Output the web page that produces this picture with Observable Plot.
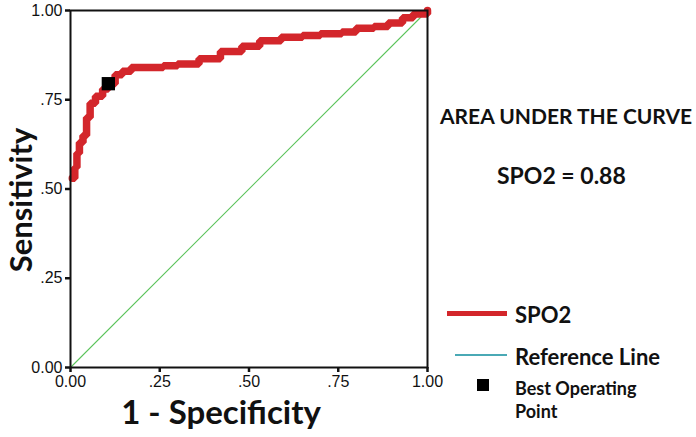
<!DOCTYPE html>
<html>
<head>
<meta charset="utf-8">
<script src="https://cdn.jsdelivr.net/npm/d3@7"></script>
<script src="https://cdn.jsdelivr.net/npm/@observablehq/plot@0.6"></script>
<style>
  html, body { margin: 0; padding: 0; background: #fff; }
  #wrap { position: relative; width: 696px; height: 437px; }
  #wrap svg { position: absolute; left: 0; top: 0; }
  .note { position: absolute; font-family: Lato, "Open Sans", sans-serif; font-weight: 700; color: #111; white-space: nowrap; line-height: 1; }
  .sw { position: absolute; }
</style>
</head>
<body>
<div id="wrap"></div>
<script>
// ROC curve for SPO2
const fpr = [0.005, 0.012, 0.018, 0.025, 0.035, 0.045, 0.055, 0.07, 0.09, 0.106, 0.125, 0.145, 0.17, 0.21, 0.26, 0.30, 0.36, 0.42, 0.48, 0.53, 0.59, 0.65, 0.70, 0.76, 0.80, 0.85, 0.89, 0.93, 0.96, 1.00];
const tpr = [0.53, 0.56, 0.60, 0.63, 0.65, 0.70, 0.74, 0.76, 0.78, 0.795, 0.82, 0.83, 0.84, 0.84, 0.845, 0.85, 0.865, 0.885, 0.90, 0.915, 0.925, 0.93, 0.935, 0.94, 0.95, 0.955, 0.965, 0.98, 0.99, 1.00];
const refX = [0, 1];
const refY = [0, 1];
const bestX = [0.106];
const bestY = [0.795];
const tickValues = [0, 0.25, 0.5, 0.75, 1];
const tickLabels = ["0.00", ".25", ".50", ".75", "1.00"];
const aucLabel = "AREA UNDER THE CURVE";
const aucText = "SPO2 = 0.88";
const legendNames = ["SPO2", "Reference Line", "Best Operating Point"];

const curve = fpr.map((x, i) => ({x, y: tpr[i]}));
const ref = refX.map((x, i) => ({x, y: refY[i]}));
const best = bestX.map((x, i) => ({x, y: bestY[i]}));
const fmt = v => tickLabels[tickValues.indexOf(v)];

const chart = Plot.plot({
  width: 696,
  height: 437,
  marginLeft: 70,
  marginRight: 269,
  marginTop: 10,
  marginBottom: 70,
  style: {fontFamily: '"Liberation Sans", Arial, sans-serif', fontSize: "16px", color: "#111", background: "transparent"},
  x: {domain: [0, 1]},
  y: {domain: [0, 1]},
  marks: [
    Plot.line(ref, {x: "x", y: "y", stroke: "#5cc45c", strokeWidth: 1.1}),
    Plot.line(curve, {x: "x", y: "y", stroke: "#d3262b", strokeWidth: 7.5, curve: "step-after", strokeLinejoin: "miter"}),
    Plot.dot(best, {x: "x", y: "y", symbol: "square", fill: "#000", r: 7.5}),
    Plot.frame({stroke: "#111", strokeWidth: 2}),
    Plot.axisX({ticks: tickValues, tickFormat: fmt, tickSize: 5, strokeWidth: 2.5, tickPadding: 3, label: null, fontSize: 16}),
    Plot.axisY({ticks: tickValues, tickFormat: fmt, tickSize: 5, strokeWidth: 2.5, tickPadding: 3, label: null, fontSize: 16}),
    Plot.text(["1 - Specificity"], {text: d => d, frameAnchor: "bottom", textAnchor: "middle", lineAnchor: "middle", dy: 46, dx: -28, fontSize: 33, fontWeight: 700, fontFamily: "Lato, sans-serif", fill: "#111"}),
    Plot.text(["Sensitivity"], {text: d => d, frameAnchor: "left", textAnchor: "middle", lineAnchor: "middle", dx: -48, dy: 11, rotate: -90, fontSize: 31, fontWeight: 700, fontFamily: "Lato, sans-serif", fill: "#111"})
  ]
});
const wrap = document.getElementById("wrap");
wrap.appendChild(chart);

function note(text, left, top, size) {
  const d = document.createElement("div");
  d.className = "note";
  d.textContent = text;
  d.style.left = left + "px";
  d.style.top = top + "px";
  d.style.fontSize = size + "px";
  wrap.appendChild(d);
  return d;
}
function sw(left, top, w, h, color) {
  const d = document.createElement("div");
  d.className = "sw";
  Object.assign(d.style, {left: left + "px", top: top + "px", width: w + "px", height: h + "px", background: color});
  wrap.appendChild(d);
}
note(aucLabel, 440, 105, 21);
note(aucText, 497, 164, 23);
// legend
sw(447, 311, 60, 5, "#d3262b");
note(legendNames[0], 515, 304, 22);
sw(455, 354, 52, 2, "#4aa9b5");
note(legendNames[1], 515, 346, 22);
sw(477, 379, 12, 12, "#000");
note("Best Operating", 515, 379, 18);
note("Point", 515, 402, 18);
</script>
</body>
</html>
